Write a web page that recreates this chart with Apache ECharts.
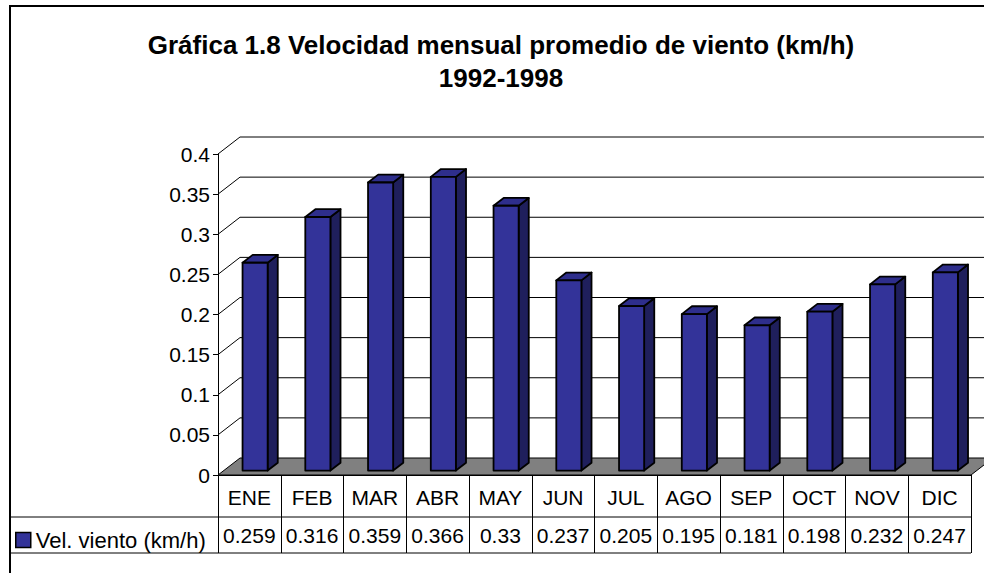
<!DOCTYPE html>
<html>
<head>
<meta charset="utf-8">
<script src="https://cdn.jsdelivr.net/npm/echarts@6/dist/echarts.min.js"></script>
<style>
html, body { margin: 0; padding: 0; background: #fff; }
#chart-panel { width: 984px; height: 573px; }
</style>
</head>
<body>
<div id="chart-panel"></div>
<script>
var months = ['ENE', 'FEB', 'MAR', 'ABR', 'MAY', 'JUN', 'JUL', 'AGO', 'SEP', 'OCT', 'NOV', 'DIC'];
var velocity = [0.259, 0.316, 0.359, 0.366, 0.33, 0.237, 0.205, 0.195, 0.181, 0.198, 0.232, 0.247];
var yTicks = [0, 0.05, 0.1, 0.15, 0.2, 0.25, 0.3, 0.35, 0.4];
var seriesName = 'Vel. viento (km/h)';
var titleLines = ['Gráfica 1.8 Velocidad mensual promedio de viento (km/h)', '1992-1998'];

(function () {
    var myChart = echarts.init(document.querySelector('#chart-panel'), null, { renderer: 'svg' });
    var font = 'Liberation Sans, Arial, sans-serif';

    // 3D look: depth of the walls and of each bar
    var depthX = 22, depthY = -17;
    var barFront = 0.26, barDepth = 0.46;
    var borderX = 10;

    var wallData = yTicks.map(function (v) { return [0, v]; });
    var barData = velocity.map(function (v, i) { return [i, v]; });

    var option = {
        animation: false,
        title: {
            text: titleLines.join('\n'),
            left: 501,
            top: 28,
            textAlign: 'center',
            padding: 0,
            textStyle: { fontFamily: font, fontSize: 26, fontWeight: 'bold', color: '#000', lineHeight: 33 }
        },
        legend: {
            left: 15,
            top: 529,
            padding: 0,
            icon: 'rect',
            itemWidth: 15,
            itemHeight: 15,
            selectedMode: false,
            textStyle: { fontFamily: font, fontSize: 22, color: '#000' },
            data: [{ name: seriesName, itemStyle: { color: '#333399', borderColor: '#000', borderWidth: 1.5 } }]
        },
        grid: { left: 218, right: 13, top: 154, bottom: 98, containLabel: false },
        xAxis: {
            type: 'category',
            data: months,
            axisLine: { show: true, lineStyle: { color: '#000', width: 1 } },
            axisTick: { show: true, interval: 0, length: 78, lineStyle: { color: '#000', width: 1 } },
            axisLabel: { margin: 12, fontFamily: font, fontSize: 21, color: '#000', interval: 0 },
            splitLine: { show: false }
        },
        yAxis: {
            type: 'value',
            min: 0,
            max: 0.4,
            interval: 0.05,
            axisLine: { show: true, lineStyle: { color: '#000', width: 1 } },
            axisTick: { show: true, length: 5, lineStyle: { color: '#000' } },
            axisLabel: { margin: 8, fontFamily: font, fontSize: 21, color: '#000' },
            splitLine: { show: false }
        },
        graphic: [{
            // chart area border: only top and left edges fall inside the picture
            type: 'polyline',
            silent: true,
            shape: { points: [[borderX, 600], [borderX, 6], [1000, 6]] },
            style: { fill: 'none', stroke: '#000', lineWidth: 2 }
        }],
        series: [
            {
                // back and side wall gridlines
                type: 'custom',
                name: 'walls',
                silent: true,
                z: 1,
                data: wallData,
                renderItem: function (params, api) {
                    var v = api.value(1);
                    if (v === 0) return;
                    var cs = params.coordSys;
                    var y = api.coord([0, v])[1];
                    return {
                        type: 'polyline',
                        shape: { points: [[cs.x, y], [cs.x + depthX, y + depthY], [cs.x + cs.width + depthX + 10, y + depthY]] },
                        style: { stroke: '#000', lineWidth: 1, fill: 'none' }
                    };
                }
            },
            {
                // grey floor
                type: 'custom',
                name: 'floor',
                silent: true,
                z: 2,
                data: [[0, 0]],
                renderItem: function (params, api) {
                    var cs = params.coordSys;
                    var yb = api.coord([0, 0])[1];
                    return {
                        type: 'polygon',
                        shape: { points: [[cs.x, yb], [cs.x + cs.width, yb], [cs.x + cs.width + depthX, yb + depthY], [cs.x + depthX, yb + depthY]] },
                        style: { fill: '#808080', stroke: '#000', lineWidth: 1 }
                    };
                }
            },
            {
                type: 'custom',
                name: seriesName,
                z: 3,
                itemStyle: { color: '#333399' },
                data: barData,
                renderItem: function (params, api) {
                    var i = api.value(0), v = api.value(1);
                    var base = api.coord([i, 0]);
                    var top = api.coord([i, v]);
                    var w = api.size([1, 0])[0] * 0.4;
                    var xl = base[0] - w / 2 + barFront * depthX;
                    var xr = xl + w;
                    var yb = base[1] + barFront * depthY;
                    var yt = top[1] + barFront * depthY;
                    var dx = barDepth * depthX, dy = barDepth * depthY;
                    var edge = { stroke: '#000', lineWidth: 1.8, lineJoin: 'round' };
                    return {
                        type: 'group',
                        children: [
                            { type: 'polygon', shape: { points: [[xr, yt], [xr + dx, yt + dy], [xr + dx, yb + dy], [xr, yb]] },
                              style: Object.assign({ fill: '#1f1f5c' }, edge) },
                            { type: 'polygon', shape: { points: [[xl, yt], [xr, yt], [xr + dx, yt + dy], [xl + dx, yt + dy]] },
                              style: Object.assign({ fill: '#2e2e8c' }, edge) },
                            { type: 'rect', shape: { x: xl, y: yt, width: w, height: yb - yt },
                              style: Object.assign({ fill: '#333399' }, edge) }
                        ]
                    };
                }
            },
            {
                // data table: value row
                type: 'custom',
                name: 'table',
                silent: true,
                z: 4,
                data: barData,
                renderItem: function (params, api) {
                    var cs = params.coordSys;
                    var i = api.value(0), v = api.value(1);
                    var c = api.coord([i, 0]);
                    var band = api.size([1, 0])[0];
                    var y1 = cs.y + cs.height + 42, y2 = y1 + 36;
                    var children = [
                        { type: 'line', shape: { x1: c[0] - band / 2, y1: y1, x2: c[0] + band / 2, y2: y1 }, style: { stroke: '#000', lineWidth: 1 } },
                        { type: 'line', shape: { x1: c[0] - band / 2, y1: y2, x2: c[0] + band / 2, y2: y2 }, style: { stroke: '#000', lineWidth: 1 } },
                        { type: 'text', style: { x: c[0], y: (y1 + y2) / 2, text: String(v), align: 'center', verticalAlign: 'middle',
                          fontFamily: font, fontSize: 21, fill: '#000' } }
                    ];
                    if (i === 0) {
                        children.push(
                            { type: 'line', shape: { x1: borderX, y1: y1, x2: cs.x, y2: y1 }, style: { stroke: '#000', lineWidth: 1 } },
                            { type: 'line', shape: { x1: borderX, y1: y2, x2: cs.x, y2: y2 }, style: { stroke: '#000', lineWidth: 1 } }
                        );
                    }
                    return { type: 'group', children: children };
                }
            }
        ]
    };

    myChart.setOption(option);
})();
</script>
</body>
</html>
